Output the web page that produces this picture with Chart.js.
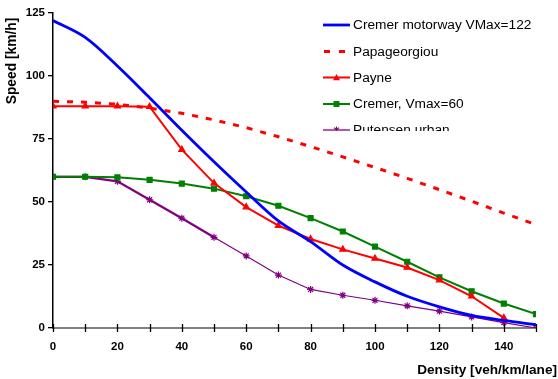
<!DOCTYPE html>
<html><head><meta charset="utf-8">
<script src="https://cdn.jsdelivr.net/npm/chart.js@4/dist/chart.umd.min.js"></script>
<style>html,body{margin:0;padding:0;background:#fff}#wrap{width:558px;height:379px;position:relative}</style>
</head><body><div id="wrap"><canvas id="c"></canvas></div>
<script>
const density = [0,10,20,30,40,50,60,70,80,90,100,110,120,130,140,150];
const cremerMotorway = [122,115.3,104,91.4,78.5,66,54,42.5,34.3,25,18.3,12.6,8.4,5,3,1.3];
const papageorgiou = [90,89.6,88.8,87.3,85.2,82.6,79.5,75.9,72,67.9,63.7,59.4,54.9,50.3,45.6,41];
const payne = [88,88,88,87.8,70.8,57.5,48,40.6,35.3,31.2,27.6,24,19,12.6,4];
const cremer60 = [60,60,59.8,58.8,57.3,55.3,52.3,48.5,43.6,38.3,32.3,26.3,20.1,14.6,9.7,5.5];
const putensen = [60,60,58.2,50.9,43.6,36,28.6,21,15.3,13,11,8.8,6.7,4.4,2.1,0];
const seriesNames = ["Cremer motorway VMax=122","Papageorgiou","Payne","Cremer, Vmax=60","Putensen urban"];
const yTicks = [0,25,50,75,100,125];
const xLabelStep = 20;
const xTitle = "Density [veh/km/lane]";
const yTitle = "Speed [km/h]";

const pts = (arr) => arr.map((v,i)=>({x:density[i], y:v}));
const FONT = '"Liberation Sans", Arial, sans-serif';

const styles = [
  {color:'#0000FF', width:2.8, dash:[], point:false, radius:0},
  {color:'#FF0000', width:3, dash:[6,8], point:false, radius:0},
  {color:'#FF0000', width:2, dash:[], point:'triangle', radius:3.5},
  {color:'#008000', width:2, dash:[], point:'rect', radius:3.5},
  {color:'#800080', width:1.3, dash:[], point:'star', radius:3.5}
];
const dataArrays = [cremerMotorway, papageorgiou, payne, cremer60, putensen];

const datasets = dataArrays.map((arr,i)=>{
  const d = {
    label: seriesNames[i],
    data: pts(arr),
    borderColor: styles[i].color,
    backgroundColor: styles[i].color,
    borderWidth: styles[i].width,
    borderDash: styles[i].dash,
    pointStyle: styles[i].point || 'circle',
    pointRadius: styles[i].radius,
    pointBorderWidth: 1.2,
    tension: i===0 ? 0.35 : 0,
    cubicInterpolationMode: i===0 ? 'monotone' : 'default',
    fill: false
  };
  if(i===4){ d.segment = {borderWidth: c => (c.p0.parsed.x < 50 ? 2.3 : 1.2)}; }
  return d;
});

function drawMarker(ctx, style, x, y, r, color){
  ctx.save();
  ctx.fillStyle = color; ctx.strokeStyle = color; ctx.lineWidth = 1.2; ctx.setLineDash([]);
  ctx.beginPath();
  if(style==='triangle'){
    ctx.moveTo(x, y-r); ctx.lineTo(x+r, y+r*0.8); ctx.lineTo(x-r, y+r*0.8); ctx.closePath(); ctx.fill();
  } else if(style==='rect'){
    ctx.fillRect(x-r*0.85, y-r*0.85, r*1.7, r*1.7);
  } else if(style==='star'){
    ctx.moveTo(x-r*0.7,y-r*0.7); ctx.lineTo(x+r*0.7,y+r*0.7);
    ctx.moveTo(x+r*0.7,y-r*0.7); ctx.lineTo(x-r*0.7,y+r*0.7);
    ctx.moveTo(x,y-r); ctx.lineTo(x,y+r);
    ctx.stroke();
  }
  ctx.restore();
}

const customPlugin = {
  id:'custom',
  afterDraw(chart){
    const ctx = chart.ctx;
    const xs = chart.scales.x, ys = chart.scales.y;
    ctx.save();
    // x tick marks crossing axis
    ctx.strokeStyle = '#000'; ctx.lineWidth = 1.3;
    for(let v=0; v<=150; v+=10){
      const px = Math.round(xs.getPixelForValue(v))+0.5;
      ctx.beginPath(); ctx.moveTo(px, ys.bottom-4); ctx.lineTo(px, ys.bottom+4); ctx.stroke();
    }
    // axis titles
    ctx.fillStyle = '#000';
    ctx.font = 'bold 13.6px ' + FONT;
    ctx.textAlign = 'right'; ctx.textBaseline = 'middle';
    ctx.fillText(xTitle, 557, 370);
    ctx.save();
    ctx.translate(12.5, 61); ctx.rotate(-Math.PI/2);
    ctx.font = 'bold 13.8px ' + FONT;
    ctx.textAlign = 'center';
    ctx.fillText(yTitle, 0, 0);
    ctx.restore();
    // legend (clipped)
    ctx.save();
    ctx.beginPath(); ctx.rect(300, 0, 258, 131); ctx.clip();
    const rows = [25, 51.5, 77.5, 104, 130];
    ctx.font = '13.7px ' + FONT;
    ctx.textAlign = 'left'; ctx.textBaseline = 'middle';
    seriesNames.forEach((name,i)=>{
      const y = rows[i], s = styles[i];
      ctx.strokeStyle = s.color; ctx.lineWidth = (i===4 ? 1.3 : s.width); ctx.setLineDash(s.dash);
      ctx.beginPath();
      if(i===1){ ctx.setLineDash([6,9]); ctx.moveTo(324,y); ctx.lineTo(352,y); }
      else { ctx.moveTo(323,y); ctx.lineTo(350,y); }
      ctx.stroke(); ctx.setLineDash([]);
      if(s.point) drawMarker(ctx, s.point, 336.5, y, s.radius, s.color);
      ctx.fillStyle = '#000';
      ctx.fillText(name, 353, y+0.5);
    });
    ctx.restore();
    ctx.restore();
  }
};

new Chart(document.getElementById('c'), {
  type:'line',
  data:{datasets},
  options:{
    responsive:true, maintainAspectRatio:false, animation:false,
    layout:{padding:{top:13, right:22, left:0, bottom:0}},
    plugins:{legend:{display:false}, tooltip:{enabled:false}},
    scales:{
      x:{
        type:'linear', min:0, max:150,
        afterFit(s){ s.height = 51; },
        afterBuildTicks(s){ s.ticks = density.map(v=>({value:v})); },
        ticks:{stepSize:10, autoSkip:false, maxRotation:0, color:'#000', padding:12,
          font:{family:FONT, size:11.5, weight:'bold'},
          callback:(v)=> v % xLabelStep === 0 && v < 150 ? String(v) : ''},
        grid:{drawOnChartArea:false, drawTicks:false},
        border:{color:'#808080', width:2}
      },
      y:{
        min:0, max:125,
        afterFit(s){ s.width = 53; },
        afterBuildTicks(s){ s.ticks = yTicks.map(v=>({value:v})); },
        ticks:{color:'#000', padding:3, font:{family:FONT, size:11.5, weight:'bold'}},
        grid:{drawOnChartArea:false, drawTicks:true, tickLength:5, color:'#000', lineWidth:1.3},
        border:{color:'#000', width:1.5}
      }
    }
  },
  plugins:[customPlugin]
});
</script></body></html>
